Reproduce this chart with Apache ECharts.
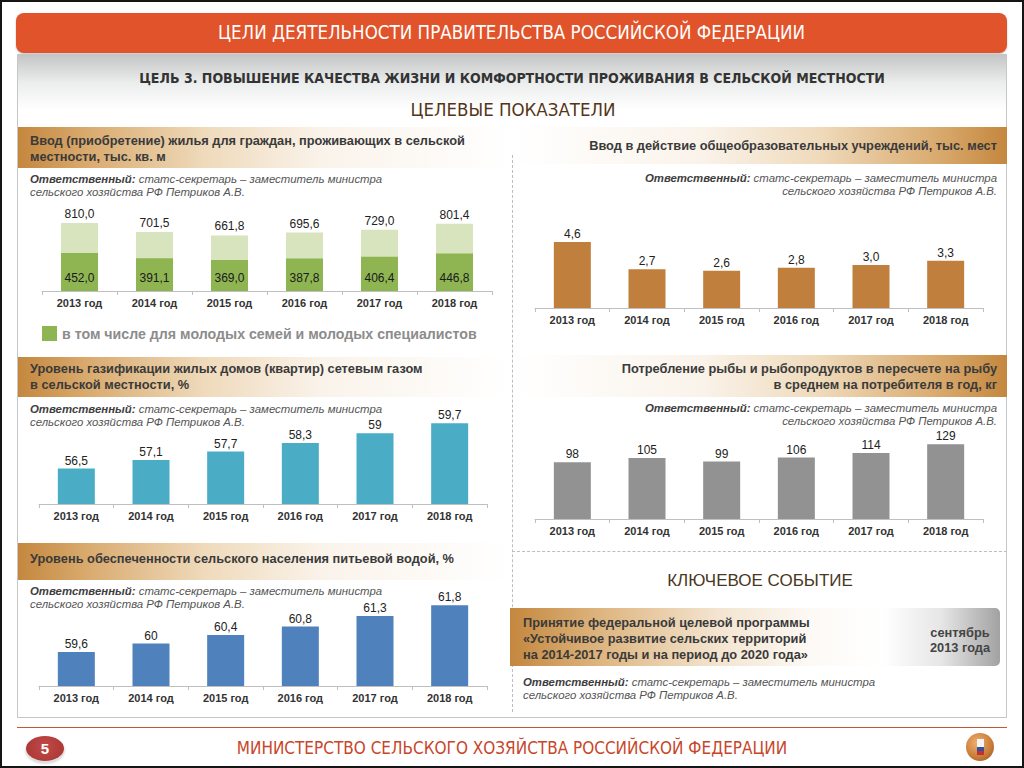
<!DOCTYPE html>
<html><head><meta charset="utf-8">
<script src="https://cdn.jsdelivr.net/npm/echarts/dist/echarts.min.js"></script>
<style>
html,body{margin:0;padding:0}
body{width:1024px;height:768px;position:relative;overflow:hidden;background:#fff;font-family:"Liberation Sans",Arial,sans-serif;}
.a{position:absolute;white-space:nowrap}
.narrow{font-family:"Liberation Sans Narrow","Arial Narrow","DejaVu Sans Condensed",sans-serif}
#frame{position:absolute;left:0;top:0;width:1024px;height:768px;box-sizing:border-box;border:2px solid #151515;z-index:50;pointer-events:none}
.hdr{left:16px;top:13px;width:991px;height:40px;border-radius:8px;background:#E1532A;color:#fff;font-size:18.6px;line-height:40px;text-align:center;box-shadow:0 1px 2px rgba(0,0,0,.25)}
.panel{left:17px;top:54px;width:988px;height:662px;border:1px solid #C6C6C6;background:linear-gradient(#C4C6C6 0px,#ECEDED 28px,#FFFFFF 55px)}
.goldL{background:linear-gradient(to right,#C4873E 0%,#D9AA6E 14%,#EFDABB 38%,#FAF3EA 62%,rgba(255,255,255,0) 100%)}
.goldR{background:linear-gradient(to left,#C4873E 0%,#D9AA6E 14%,#EFDABB 38%,#FAF3EA 62%,rgba(255,255,255,0) 100%)}
.ht{font-size:12.8px;font-weight:bold;color:#3A3A3A;line-height:16px}
.resp{font-size:11.4px;font-style:italic;color:#555;line-height:13px}
.resp b{color:#3E3E3E}
#chart{position:absolute;left:0;top:0;width:1024px;height:768px;z-index:10}
</style></head>
<body>
<div class="a hdr narrow">ЦЕЛИ ДЕЯТЕЛЬНОСТИ ПРАВИТЕЛЬСТВА РОССИЙСКОЙ ФЕДЕРАЦИИ</div>
<div class="a panel"></div>
<div class="a narrow" style="left:0;width:1024px;top:70px;line-height:16px;text-align:center;font-size:14px;font-weight:bold;color:#333">ЦЕЛЬ 3. ПОВЫШЕНИЕ КАЧЕСТВА ЖИЗНИ И КОМФОРТНОСТИ ПРОЖИВАНИЯ В СЕЛЬСКОЙ МЕСТНОСТИ</div>
<div class="a narrow" style="left:0;width:1026px;top:100px;line-height:20px;text-align:center;font-size:18.5px;color:#553519">ЦЕЛЕВЫЕ ПОКАЗАТЕЛИ</div>

<!-- section headers -->
<div class="a goldL" style="left:18px;top:127px;width:490px;height:41px"></div>
<div class="a ht" style="left:30px;top:133px">Ввод (приобретение) жилья для граждан, проживающих в сельской<br>местности, тыс. кв. м</div>
<div class="a goldR" style="left:515px;top:127px;width:492px;height:37px"></div>
<div class="a ht" style="right:27px;top:138px;text-align:right">Ввод в действие общеобразовательных учреждений, тыс. мест</div>

<div class="a goldL" style="left:18px;top:357px;width:490px;height:40px"></div>
<div class="a ht" style="left:30px;top:361px">Уровень газификации жилых домов (квартир) сетевым газом<br>в сельской местности, %</div>
<div class="a goldR" style="left:515px;top:355px;width:492px;height:42px"></div>
<div class="a ht" style="right:27px;top:361px;text-align:right">Потребление рыбы и рыбопродуктов в пересчете на рыбу<br>в среднем на потребителя в год, кг</div>

<div class="a goldL" style="left:18px;top:543px;width:490px;height:37px"></div>
<div class="a ht" style="left:30px;top:551px">Уровень обеспеченности сельского населения питьевой водой, %</div>

<!-- responsible -->
<div class="a resp" style="left:30px;top:173px"><b>Ответственный:</b> статс-секретарь – заместитель министра<br>сельского хозяйства РФ Петриков А.В.</div>
<div class="a resp" style="right:27px;top:172px;text-align:right"><b>Ответственный:</b> статс-секретарь – заместитель министра<br>сельского хозяйства РФ Петриков А.В.</div>
<div class="a resp" style="left:30px;top:403px"><b>Ответственный:</b> статс-секретарь – заместитель министра<br>сельского хозяйства РФ Петриков А.В.</div>
<div class="a resp" style="right:27px;top:402px;text-align:right"><b>Ответственный:</b> статс-секретарь – заместитель министра<br>сельского хозяйства РФ Петриков А.В.</div>
<div class="a resp" style="left:30px;top:585px"><b>Ответственный:</b> статс-секретарь – заместитель министра<br>сельского хозяйства РФ Петриков А.В.</div>
<div class="a resp" style="left:523px;top:676px"><b>Ответственный:</b> статс-секретарь – заместитель министра<br>сельского хозяйства РФ Петриков А.В.</div>

<!-- dashed separators -->
<div class="a" style="left:512px;top:155px;height:557px;border-left:1px dashed #BDBDBD"></div>
<div class="a" style="left:512px;top:551px;width:495px;border-top:1px dashed #BDBDBD"></div>

<!-- key event -->
<div class="a" style="left:0;width:1520px;top:571px;line-height:20px;text-align:center;font-size:17px;color:#4A3722">КЛЮЧЕВОЕ СОБЫТИЕ</div>
<div class="a" style="left:510px;top:608px;width:490px;height:58px;border-radius:0 5px 5px 0;background:linear-gradient(to right,#C4873E 0%,#DDB47E 18%,#F3E4CF 42%,#FDFAF6 62%,#FFFFFF 76%,#E6E6E6 88%,#A2A2A2 100%)"></div>
<div class="a ht" style="left:523px;top:615px">Принятие федеральной целевой программы<br>«Устойчивое развитие сельских территорий<br>на 2014-2017 годы и на период до 2020 года»</div>
<div class="a ht" style="left:920px;width:80px;top:625px;text-align:center;color:#444;line-height:15px">сентябрь<br>2013 года</div>

<!-- footer -->
<div class="a" style="left:17px;top:727px;width:990px;border-top:1px solid #C4553A"></div>
<div class="a" style="left:26px;top:736px;width:38px;height:25px;border-radius:50%;background:radial-gradient(circle at 50% 40%,#C24A48,#A63331);box-shadow:0 2px 2px 1px #ddd, 0 0 0 1px #fff;color:#fff;font-weight:bold;font-size:15px;line-height:25px;text-align:center">5</div>
<div class="a narrow" style="left:0;width:1024px;top:738px;line-height:20px;text-align:center;font-size:17px;color:#C8462A">МИНИСТЕРСТВО СЕЛЬСКОГО ХОЗЯЙСТВА РОССИЙСКОЙ ФЕДЕРАЦИИ</div>
<div class="a" style="left:966px;top:733px;width:28px;height:28px;border-radius:50%;background:radial-gradient(circle at 40% 35%,#F0B070,#C77A36 60%,#8E4E1E)"></div>
<div class="a" style="left:977px;top:739px;width:7px;height:16px;background:linear-gradient(#f4f4f4 0,#f4f4f4 50%,#3050a0 50%,#3050a0 75%,#c03030 75%)"></div>

<div id="chart"></div>
<div id="frame"></div>

<script>
// ---- data ----
const years = ['2013 год', '2014 год', '2015 год', '2016 год', '2017 год', '2018 год'];
const housingTotal = [810.0, 701.5, 661.8, 695.6, 729.0, 801.4];
const housingYoung = [452.0, 391.1, 369.0, 387.8, 406.4, 446.8];
const schools = [4.6, 2.7, 2.6, 2.8, 3.0, 3.3];
const gas = [56.5, 57.1, 57.7, 58.3, 59, 59.7];
const fish = [98, 105, 99, 106, 114, 129];
const water = [59.6, 60, 60.4, 60.8, 61.3, 61.8];
const legendName = 'в том числе для молодых семей и молодых специалистов';

const fixed1 = p => p.value.toFixed(1).replace('.', ',');
const plain = p => String(p.value).replace('.', ',');

const grids = [
  {left: 42, top: 207, width: 450, height: 84},
  {left: 535, top: 222, width: 448, height: 86},
  {left: 39, top: 419, width: 448, height: 85},
  {left: 535, top: 432, width: 448, height: 87},
  {left: 39, top: 601, width: 448, height: 85}
];
const yRanges = [[0, 1000], [0, 6], [54, 60], [0, 150], [58, 62]];

const xAxes = grids.map((g, i) => ({
  type: 'category', gridIndex: i, data: years,
  axisLine: {lineStyle: {color: '#BFBFBF', width: 1}},
  axisTick: {show: true, length: 4, lineStyle: {color: '#BFBFBF'}},
  axisLabel: {fontSize: 11, fontWeight: 'bold', color: '#333', margin: 6, fontFamily: 'Liberation Sans, Arial'}
}));
const yAxes = yRanges.map((r, i) => ({
  type: 'value', gridIndex: i, min: r[0], max: r[1], show: false, splitLine: {show: false}
}));

const lbl = (fmt, extra) => Object.assign({show: true, position: 'top', distance: 2, fontSize: 12, color: '#222', fontFamily: 'Liberation Sans, Arial', formatter: fmt}, extra || {});
const bw = 37;

const option = {
  animation: false,
  grid: grids,
  xAxis: xAxes,
  yAxis: yAxes,
  legend: {
    data: [legendName], left: 37, top: 321, icon: 'rect', itemWidth: 15, itemHeight: 15, itemGap: 8,
    textStyle: {fontSize: 14.2, fontWeight: 'bold', color: '#8C8C8C', fontFamily: 'Liberation Sans, Arial'}
  },
  series: [
    {name: 'total', type: 'bar', xAxisIndex: 0, yAxisIndex: 0, data: housingTotal, barWidth: bw, barGap: '-100%',
      itemStyle: {color: '#D7E4BD'}, label: lbl(fixed1, {distance: 3})},
    {name: legendName, type: 'bar', xAxisIndex: 0, yAxisIndex: 0, data: housingYoung, barWidth: bw, barGap: '-100%',
      itemStyle: {color: '#8FB552'}, label: lbl(fixed1, {position: 'insideBottom', distance: 7, color: '#1a1a1a'})},
    {name: 'schools', type: 'bar', xAxisIndex: 1, yAxisIndex: 1, data: schools, barWidth: bw,
      itemStyle: {color: '#C07F3C'}, label: lbl(fixed1)},
    {name: 'gas', type: 'bar', xAxisIndex: 2, yAxisIndex: 2, data: gas, barWidth: bw,
      itemStyle: {color: '#4BACC6'}, label: lbl(plain)},
    {name: 'fish', type: 'bar', xAxisIndex: 3, yAxisIndex: 3, data: fish, barWidth: bw,
      itemStyle: {color: '#929292'}, label: lbl(plain)},
    {name: 'water', type: 'bar', xAxisIndex: 4, yAxisIndex: 4, data: water, barWidth: bw,
      itemStyle: {color: '#4F81BD'}, label: lbl(plain)}
  ]
};
const chart = echarts.init(document.getElementById('chart'), null, {renderer: 'svg'});
chart.setOption(option);
</script>
</body></html>
